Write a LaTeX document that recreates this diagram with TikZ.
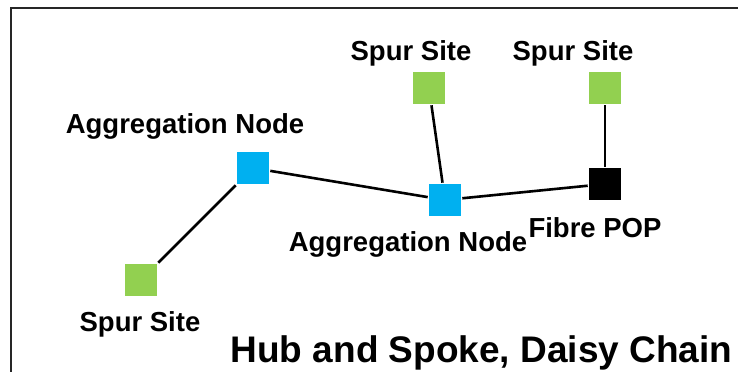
\documentclass[tikz,border=0pt]{standalone}
\usepackage{fontspec}
\setmainfont{Liberation Sans}
\usetikzlibrary{positioning}
\definecolor{cblue}{HTML}{00B0F0}
\definecolor{cgreen}{HTML}{92D050}
\tikzset{
  every picture/.style={line width=2.6pt},
  site/.style={fill=#1, minimum size=32pt, inner sep=0pt},
  site/.default=cgreen,
  link/.style={draw=black, line width=2.6pt},
  lbl/.style={font=\fontsize{27.5}{30}\selectfont\bfseries, anchor=base, inner sep=0pt},
  title/.style={font=\fontsize{37}{40}\selectfont\bfseries, anchor=base, inner sep=0pt},
}

\begin{document}
\begin{tikzpicture}[x=1pt, y=-1pt]
  \useasboundingbox (0,0) rectangle (738,372);
  % ---- frame
  \draw[black!85, line width=2.8pt] (738,8) -- (11,8) -- (11,372);
  % ---- sites
  \node[site=cblue] (agg1) at (253,168) {};
  \node[site=cblue] (agg2) at (445,200) {};
  \node[site=black] (pop) at (605,184) {};
  \node[site] (spur1) at (429,88) {};
  \node[site] (spur2) at (605,88) {};
  \node[site] (spur3) at (141,280) {};
  % ---- links
  \foreach \a/\b in {spur3/agg1, agg1/agg2, agg2/pop, spur1/agg2, spur2/pop}
    \draw[link] (\a) -- (\b);
  % ---- labels
  \node[lbl] (lspur1) at (411,60) {Spur Site};
  \node[lbl] (lspur2) at (573,60) {Spur Site};
  \node[lbl] (lagg1) at (185,133) {Aggregation Node};
  \node[lbl] (lagg2) at (408,251) {Aggregation Node};
  \node[lbl] (lpop) at (595,237) {Fibre POP};
  \node[lbl] (lspur3) at (140,331) {Spur Site};
  \node[title] (ttl) at (481.5,362) {Hub and Spoke, Daisy Chain};
\end{tikzpicture}
\end{document}
